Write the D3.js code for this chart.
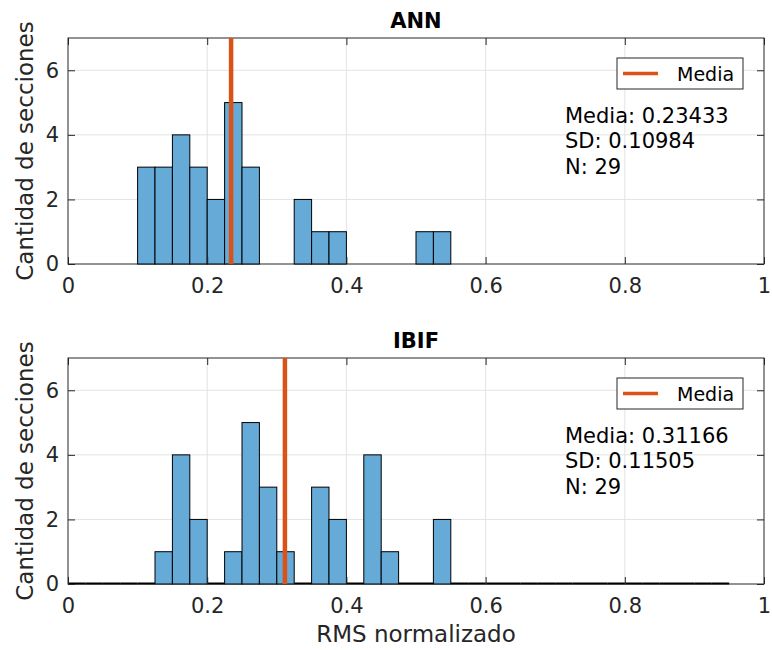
<!DOCTYPE html>
<html>
<head>
<meta charset="utf-8">
<script src="https://cdn.jsdelivr.net/npm/d3@7"></script>
<style>
  html, body { margin: 0; padding: 0; background: #ffffff; }
  svg { display: block; font-family: "DejaVu Sans", sans-serif; }
</style>
</head>
<body>
<svg id="chart" width="772" height="650"></svg>
<script>
// Histogram bin width shared by both panels
const binWidth = 0.025;

// ANN panel: counts per bin, starting at annStart
const annStart = 0.1;
const annCounts = [3, 3, 4, 3, 2, 5, 3, 0, 0, 2, 1, 1, 0, 0, 0, 0, 1, 1];
const annMean = 0.23433;
const annStats = ["Media: 0.23433", "SD: 0.10984", "N: 29"];

// IBIF panel: counts per bin, starting at ibifStart
const ibifStart = 0.0;
const ibifCounts = [0, 0, 0, 0, 0, 1, 4, 2, 0, 1, 5, 3, 1, 0, 3, 2, 0, 4, 1, 0, 0, 2,
                    0, 0, 0, 0, 0, 0, 0, 0, 0, 0, 0, 0, 0, 0, 0, 0];
const ibifMean = 0.31166;
const ibifStats = ["Media: 0.31166", "SD: 0.11505", "N: 29"];

const xTicks = [0, 0.2, 0.4, 0.6, 0.8, 1];
const xTickLabels = ["0", "0.2", "0.4", "0.6", "0.8", "1"];
const yTicks = [0, 2, 4, 6];
const legendLabel = "Media";
const yLabel = "Cantidad de secciones";
const xLabel = "RMS normalizado";

const axisColor = "#262626";
const gridColor = "#e3e3e3";
const barFill = "rgb(102,170,215)";
const meanColor = "#D95319";

const svg = d3.select("#chart");

function panel(opts) {
  const { top, bottom, title, start, counts, mean, stats, showXLabel, emptyBinEdges } = opts;
  const left = 68, right = 764;
  const x = d3.scaleLinear().domain([0, 1]).range([left, right]);
  const y = d3.scaleLinear().domain([0, 7]).range([bottom, top]);
  const g = svg.append("g");

  // grid
  g.append("g").selectAll("line").data(xTicks.slice(1, -1)).join("line")
    .attr("x1", d => x(d)).attr("x2", d => x(d))
    .attr("y1", top).attr("y2", bottom)
    .attr("stroke", gridColor).attr("stroke-width", 1);
  g.append("g").selectAll("line").data(yTicks.slice(1)).join("line")
    .attr("x1", left).attr("x2", right)
    .attr("y1", d => y(d)).attr("y2", d => y(d))
    .attr("stroke", gridColor).attr("stroke-width", 1);

  // axes box
  g.append("rect")
    .attr("x", left).attr("y", top)
    .attr("width", right - left).attr("height", bottom - top)
    .attr("fill", "none").attr("stroke", axisColor).attr("stroke-width", 1);

  // histogram bars
  const bins = counts.map((c, i) => ({ x0: start + i * binWidth, x1: start + (i + 1) * binWidth, c }));
  g.append("g").selectAll("rect").data(bins.filter(d => d.c > 0)).join("rect")
    .attr("x", d => x(d.x0))
    .attr("y", d => y(d.c))
    .attr("width", d => x(d.x1) - x(d.x0))
    .attr("height", d => y(0) - y(d.c))
    .attr("fill", barFill)
    .attr("stroke", "#000")
    .attr("stroke-width", 1);

  // empty bins collapse to a line on the baseline
  if (emptyBinEdges) {
    g.append("g").selectAll("line").data(bins.filter(d => d.c === 0)).join("line")
      .attr("x1", d => x(d.x0)).attr("x2", d => x(d.x1))
      .attr("y1", y(0) - 0.5).attr("y2", y(0) - 0.5)
      .attr("stroke", "#000").attr("stroke-width", 2);
  }

  // inward ticks on all sides
  const tl = 7;
  const xAxisB = d3.axisBottom(x).tickValues(xTicks).tickSize(-tl).tickFormat((d, i) => xTickLabels[i]).tickPadding(14);
  const xAxisT = d3.axisTop(x).tickValues(xTicks).tickSize(-tl).tickFormat("");
  const yAxisL = d3.axisLeft(y).tickValues(yTicks).tickSize(-tl).tickFormat(d3.format("d")).tickPadding(9);
  const yAxisR = d3.axisRight(y).tickValues(yTicks).tickSize(-tl).tickFormat("");

  [[xAxisB, `translate(0,${bottom})`], [xAxisT, `translate(0,${top})`],
   [yAxisL, `translate(${left},0)`], [yAxisR, `translate(${right},0)`]].forEach(([ax, tr]) => {
    const a = g.append("g").attr("transform", tr).call(ax);
    a.select(".domain").remove();
    a.selectAll(".tick line").attr("stroke", axisColor);
    a.selectAll(".tick text").attr("fill", axisColor)
      .style("font-size", "21px").style("font-family", "DejaVu Sans, sans-serif");
  });

  // mean line
  g.append("line")
    .attr("x1", x(mean)).attr("x2", x(mean))
    .attr("y1", top).attr("y2", bottom)
    .attr("stroke", meanColor).attr("stroke-width", 4.5);

  // title
  g.append("text").attr("x", (left + right) / 2).attr("y", top - 10)
    .attr("text-anchor", "middle").style("font-size", "21px").style("font-weight", "bold")
    .attr("fill", "#000").text(title);

  // y label
  g.append("text")
    .attr("transform", `translate(33,${(top + bottom) / 2}) rotate(-90)`)
    .attr("text-anchor", "middle").style("font-size", "23px").attr("fill", axisColor)
    .text(yLabel);

  if (showXLabel) {
    g.append("text").attr("x", (left + right) / 2).attr("y", bottom + 58)
      .attr("text-anchor", "middle").style("font-size", "23px").attr("fill", axisColor)
      .text(xLabel);
  }

  // legend
  const lg = g.append("g").attr("transform", `translate(617,${top + 20})`);
  lg.append("rect").attr("x", 0).attr("y", 0).attr("width", 126).attr("height", 31)
    .attr("fill", "#fff").attr("stroke", axisColor).attr("stroke-width", 1);
  lg.append("line").attr("x1", 6).attr("x2", 41).attr("y1", 15.5).attr("y2", 15.5)
    .attr("stroke", meanColor).attr("stroke-width", 3.5);
  lg.append("text").attr("x", 60).attr("y", 23).style("font-size", "19px")
    .attr("fill", "#000").text(legendLabel);

  // stats annotation
  g.append("text").attr("x", 565).attr("y", top + 85)
    .style("font-size", "21px").attr("fill", "#000")
    .selectAll("tspan").data(stats).join("tspan")
    .attr("x", 565).attr("dy", (d, i) => i === 0 ? 0 : 25.3).text(d => d);
}

panel({ top: 38, bottom: 264, title: "ANN", start: annStart, counts: annCounts, mean: annMean, stats: annStats, showXLabel: false, emptyBinEdges: false });
panel({ top: 358, bottom: 584, title: "IBIF", start: ibifStart, counts: ibifCounts, mean: ibifMean, stats: ibifStats, showXLabel: true, emptyBinEdges: true });
</script>
</body>
</html>
